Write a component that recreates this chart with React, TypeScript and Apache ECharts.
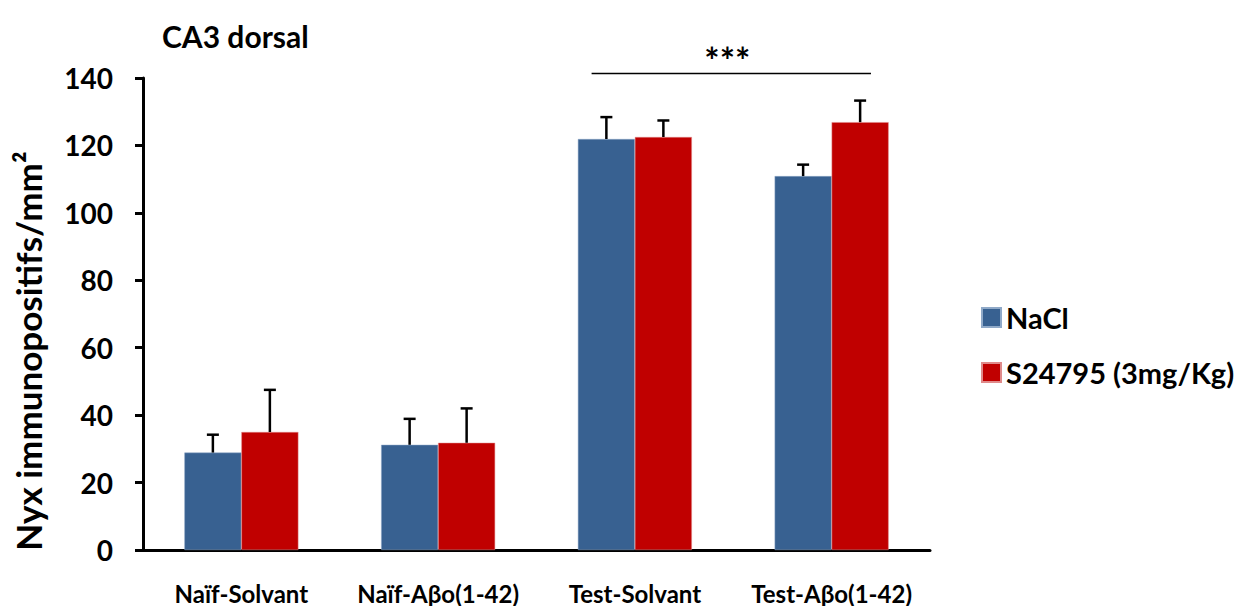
import React, { useEffect, useRef } from "react";
import * as echarts from "echarts";

const categories = ["Naïf-Solvant", "Naïf-Aβo(1-42)", "Test-Solvant", "Test-Aβo(1-42)"];
const naclValues = [28.9, 31.2, 121.9, 110.9];
const naclErrors = [5.3, 7.7, 6.5, 3.4];
const s24795Values = [35.0, 31.8, 122.5, 126.9];
const s24795Errors = [12.5, 10.2, 4.9, 6.4];
const yTicks = [0, 20, 40, 60, 80, 100, 120, 140];
const seriesNames = ["NaCl", "S24795 (3mg/Kg)"];
const significance = { from: 2, to: 3, level: 141.3, label: "***" };

const FONT = "Lato, 'Open Sans', sans-serif";
const BLUE = "#386191";
const RED = "#C00000";
const BAR_W = 57;

function errorSeries(values: number[], errors: number[], offset: number) {
  return {
    type: "custom",
    silent: true,
    z: 5,
    data: values.map((v, i) => [i, v, v + errors[i]]),
    renderItem: (params: any, api: any) => {
      const base = api.coord([api.value(0), api.value(1)]);
      const top = api.coord([api.value(0), api.value(2)]);
      const x = base[0] + offset;
      return {
        type: "group",
        children: [
          { type: "line", shape: { x1: x, y1: base[1], x2: x, y2: top[1] }, style: { stroke: "#000", lineWidth: 2.5 } },
          { type: "line", shape: { x1: x - 6, y1: top[1], x2: x + 6, y2: top[1] }, style: { stroke: "#000", lineWidth: 2.5 } },
        ],
      };
    },
  };
}

export default function App() {
  const ref = useRef<HTMLDivElement>(null);
  useEffect(() => {
    if (!ref.current) return;
    const chart = echarts.init(ref.current, null, { renderer: "svg" });
    chart.setOption({
      animation: false,
      textStyle: { fontFamily: FONT },
      grid: { left: 143, right: 312, top: 78, bottom: 56, containLabel: false },
      title: {
        text: "CA3 dorsal",
        left: 157,
        top: 16,
        textStyle: { fontFamily: FONT, fontWeight: "bold", fontSize: 30, color: "#000" },
      },
      legend: {
        orient: "vertical",
        left: 976,
        top: 298,
        itemWidth: 19,
        itemHeight: 19,
        itemGap: 26,
        icon: "rect",
        data: seriesNames,
        textStyle: { fontFamily: FONT, fontWeight: "bold", fontSize: 29, color: "#000", padding: [0, 0, 0, 0] },
      },
      xAxis: {
        type: "category",
        data: categories,
        axisLine: { lineStyle: { color: "#000", width: 3 } },
        axisTick: { show: false },
        axisLabel: { interval: 0, margin: 31, fontFamily: FONT, fontWeight: "bold", fontSize: 24, color: "#000" },
      },
      yAxis: {
        type: "value",
        min: 0,
        max: yTicks[yTicks.length - 1],
        interval: 20,
        splitLine: { show: false },
        axisLine: { show: true, lineStyle: { color: "#000", width: 3 } },
        axisTick: { show: true, length: 8, lineStyle: { color: "#000", width: 3 } },
        axisLabel: { margin: 30, fontFamily: FONT, fontWeight: "bold", fontSize: 28, color: "#000" },
      },
      graphic: [
        {
          type: "text",
          x: 28,
          y: 351,
          rotation: Math.PI / 2,
          style: {
            text: "Nyx immunopositifs/mm²",
            fontFamily: FONT,
            fontWeight: "bold",
            fontSize: 35,
            fill: "#000",
            textAlign: "center",
            textVerticalAlign: "middle",
          },
        },
      ],
      series: [
        {
          name: seriesNames[0],
          type: "bar",
          data: naclValues,
          barWidth: BAR_W,
          barGap: "0%",
          itemStyle: { color: BLUE, borderColor: "#8fa9c8", borderWidth: 0.5 },
        },
        {
          name: seriesNames[1],
          type: "bar",
          data: s24795Values,
          barWidth: BAR_W,
          barGap: "0%",
          itemStyle: { color: RED, borderColor: "#e08a8a", borderWidth: 0.5 },
        },
        errorSeries(naclValues, naclErrors, -BAR_W / 2),
        errorSeries(s24795Values, s24795Errors, BAR_W / 2),
        {
          type: "custom",
          silent: true,
          clip: false,
          data: [[significance.from, significance.to, significance.level]],
          renderItem: (params: any, api: any) => {
            const p1 = api.coord([api.value(0), api.value(2)]);
            const p2 = api.coord([api.value(1), api.value(2)]);
            const bw = api.size([1, 0])[0];
            const x1 = p1[0] - 0.22 * bw;
            const x2 = p2[0] + 0.2 * bw;
            return {
              type: "group",
              children: [
                { type: "line", shape: { x1, y1: p1[1], x2, y2: p1[1] }, style: { stroke: "#000", lineWidth: 1.5 } },
                {
                  type: "text",
                  x: (x1 + x2) / 2 - 4,
                  y: p1[1] - 14,
                  style: {
                    text: significance.label,
                    fontFamily: FONT,
                    fontWeight: "bold",
                    fontSize: 36,
                    fill: "#000",
                    textAlign: "center",
                    textVerticalAlign: "middle",
                  },
                },
              ],
            };
          },
        },
      ],
    });
    return () => chart.dispose();
  }, []);
  return <div ref={ref} style={{ width: 1242, height: 606, position: "absolute", left: 0, top: 0 }} />;
}
